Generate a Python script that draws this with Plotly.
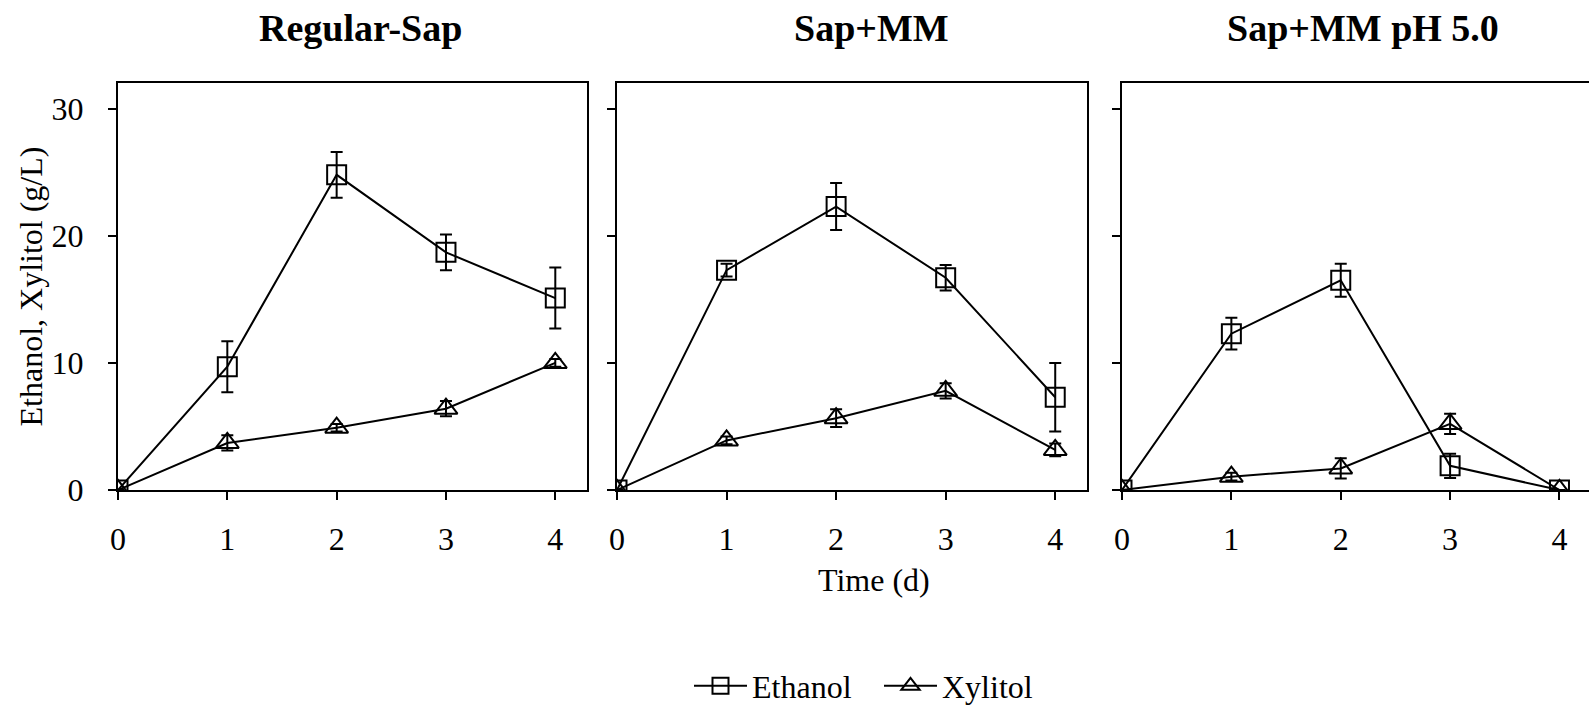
import plotly.graph_objects as go

# ---------------- data ----------------
days = [0, 1, 2, 3, 4]
panel_titles = ["Regular-Sap", "Sap+MM", "Sap+MM pH 5.0"]

ethanol_regular = [0.0, 9.7, 24.8, 18.7, 15.1]
ethanol_regular_err = [0.0, 2.0, 1.8, 1.4, 2.4]
xylitol_regular = [0.0, 3.7, 4.9, 6.4, 10.0]
xylitol_regular_err = [0.0, 0.6, 0.3, 0.6, 0.3]

ethanol_mm = [0.0, 17.3, 22.3, 16.7, 7.3]
ethanol_mm_err = [0.0, 0.5, 1.85, 1.0, 2.7]
xylitol_mm = [0.0, 3.9, 5.65, 7.8, 3.15]
xylitol_mm_err = [0.0, 0.3, 0.7, 0.6, 0.5]

ethanol_ph5 = [0.0, 12.3, 16.5, 1.9, 0.0]
ethanol_ph5_err = [0.0, 1.25, 1.3, 0.95, 0.0]
xylitol_ph5 = [0.0, 1.05, 1.7, 5.2, 0.0]
xylitol_ph5_err = [0.0, 0.3, 0.8, 0.8, 0.0]

y_ticks = [0, 10, 20, 30]
x_ticks = [0, 1, 2, 3, 4]

# ---------------- figure ----------------
W, H = 1589, 707
FONT = "Times New Roman, Liberation Serif, serif"

panels = [
    (ethanol_regular, ethanol_regular_err, xylitol_regular, xylitol_regular_err),
    (ethanol_mm, ethanol_mm_err, xylitol_mm, xylitol_mm_err),
    (ethanol_ph5, ethanol_ph5_err, xylitol_ph5, xylitol_ph5_err),
]

fig = go.Figure()

for i, (eth, eth_e, xyl, xyl_e) in enumerate(panels):
    ax = "" if i == 0 else str(i + 1)
    common = dict(
        x=days, mode="lines+markers", xaxis="x" + ax, yaxis="y" + ax,
        line=dict(color="black", width=2),
    )
    fig.add_trace(go.Scatter(
        y=eth, name="Ethanol", showlegend=(i == 0), legendgroup="eth",
        marker=dict(symbol="square-open", size=19, color="black", line=dict(width=2)),
        error_y=dict(type="data", array=eth_e, color="black", thickness=2, width=6),
        **common))
    fig.add_trace(go.Scatter(
        y=xyl, name="Xylitol", showlegend=(i == 0), legendgroup="xyl",
        marker=dict(symbol="triangle-up-open", size=20, color="black", line=dict(width=2)),
        error_y=dict(type="data", array=xyl_e, color="black", thickness=2, width=6),
        **common))

x_domains = [(118 / W, 587 / W), (617 / W, 1087 / W), (1122 / W, 1.0)]
x_ranges = [[0, 4.29], [0, 4.29], [0, 4.27]]
y_domain = [(H - 490) / H, (H - 83.3) / H]

for i in range(3):
    ax = "" if i == 0 else str(i + 1)
    fig.layout["xaxis" + ax] = dict(
        domain=list(x_domains[i]), range=x_ranges[i], anchor="y" + ax,
        tickvals=x_ticks, ticks="outside", ticklen=8, tickwidth=2, tickcolor="black",
        showline=True, linecolor="black", linewidth=2, mirror=True,
        showgrid=False, zeroline=False, ticklabelstandoff=12, automargin=False,
        tickfont=dict(family=FONT, size=32, color="black"),
    )
    fig.layout["yaxis" + ax] = dict(
        domain=y_domain, range=[0, 32], anchor="x" + ax,
        tickvals=y_ticks, ticks="outside", ticklen=8, tickwidth=2, tickcolor="black",
        showline=True, linecolor="black", linewidth=2, mirror=(i < 2),
        showgrid=False, zeroline=False, showticklabels=(i == 0),
        ticklabelstandoff=18, automargin=False,
        tickfont=dict(family=FONT, size=32, color="black"),
    )

title_x = [360, 871, 1363]
annotations = []
for t, xc in zip(panel_titles, title_x):
    annotations.append(dict(
        text="<b>%s</b>" % t, x=xc / W, y=(H - 28) / H, xref="paper", yref="paper",
        xanchor="center", yanchor="middle", showarrow=False,
        font=dict(family=FONT, size=38, color="black")))
annotations.append(dict(
    text="Ethanol, Xylitol (g/L)", x=31 / W, y=(H - 286.5) / H, xref="paper", yref="paper",
    xanchor="center", yanchor="middle", textangle=-90, showarrow=False,
    font=dict(family=FONT, size=32, color="black")))
annotations.append(dict(
    text="Time (d)", x=874 / W, y=(H - 580) / H, xref="paper", yref="paper",
    xanchor="center", yanchor="middle", showarrow=False,
    font=dict(family=FONT, size=32, color="black")))

fig.update_layout(
    width=W, height=H,
    margin=dict(l=0, r=0, t=0, b=0, autoexpand=False),
    paper_bgcolor="white", plot_bgcolor="white",
    font=dict(family=FONT, size=32, color="black"),
    annotations=annotations,
    showlegend=True,
    legend=dict(
        orientation="h", x=879 / W, y=21 / H, xanchor="center", yanchor="middle",
        font=dict(family=FONT, size=32, color="black"),
        itemwidth=53, entrywidth=122, entrywidthmode="pixels",
        tracegroupgap=0, bgcolor="rgba(0,0,0,0)",
    ),
)

fig.write_html(
    "out.html",
    config={"displayModeBar": False},
    post_script="document.body.style.margin='0';document.body.style.overflow='hidden';",
)
